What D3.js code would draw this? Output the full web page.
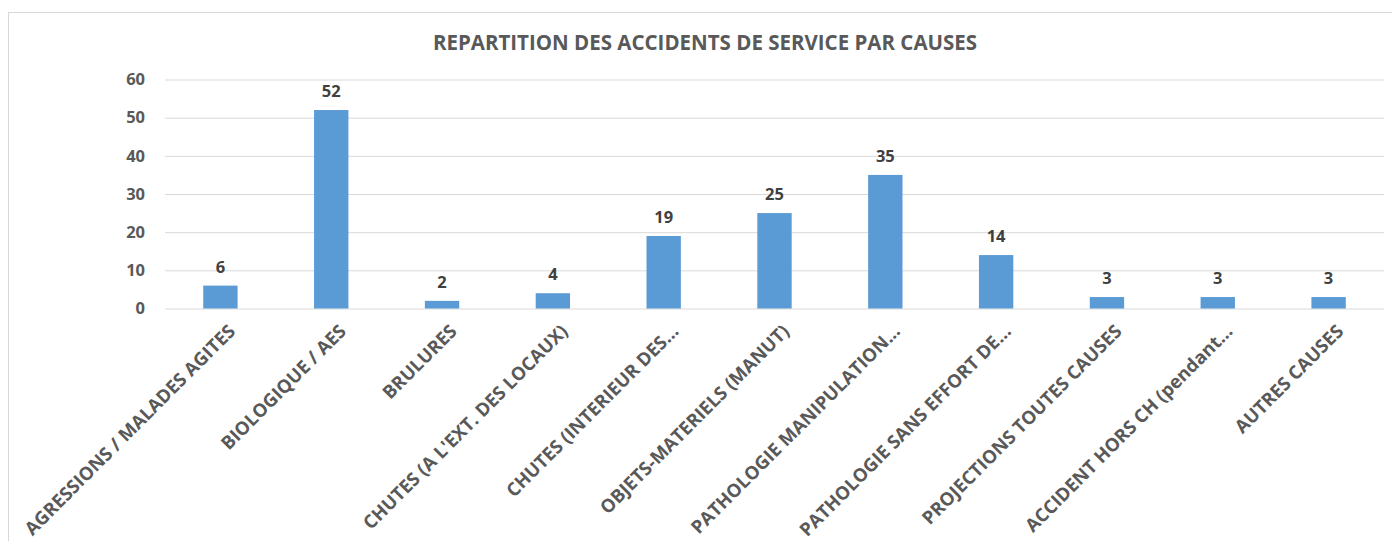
<!DOCTYPE html>
<html>
<head>
<meta charset="utf-8">
<script src="https://d3js.org/d3.v7.min.js"></script>
<style>
  body { margin: 0; background: #fff; }
  text { font-family: "Open Sans", Lato, sans-serif; font-weight: bold; }
</style>
</head>
<body>
<script>
// chart data
var causes = [
  "AGRESSIONS / MALADES AGITES",
  "BIOLOGIQUE / AES",
  "BRULURES",
  "CHUTES (A L'EXT. DES LOCAUX)",
  "CHUTES (INTERIEUR DES...",
  "OBJETS-MATERIELS (MANUT)",
  "PATHOLOGIE MANIPULATION...",
  "PATHOLOGIE SANS EFFORT DE...",
  "PROJECTIONS TOUTES CAUSES",
  "ACCIDENT HORS CH (pendant...",
  "AUTRES CAUSES"
];
var accidents = [6, 52, 2, 4, 19, 25, 35, 14, 3, 3, 3];
var yTicks = [0, 10, 20, 30, 40, 50, 60];
var title = "REPARTITION DES ACCIDENTS DE SERVICE PAR CAUSES";

var w = 1392, h = 541;
var plotLeft = 165, plotRight = 1384, plotTop = 79.5, plotBottom = 308.5;
var font = "'Open Sans', Lato, sans-serif";

var svg = d3.select("body").append("svg")
  .attr("width", w)
  .attr("height", h);

// chart frame
svg.append("rect")
  .attr("x", 8.5).attr("y", 12.5)
  .attr("width", 1400).attr("height", 600)
  .attr("fill", "none")
  .attr("stroke", "#d9d9d9");

// title
svg.append("text")
  .attr("x", 705).attr("y", 50)
  .attr("text-anchor", "middle")
  .attr("font-size", 20.5)
  .attr("fill", "#595959")
  .text(title);

var x = d3.scaleBand()
  .domain(causes)
  .range([plotLeft, plotRight])
  .paddingInner(0.69)
  .paddingOuter(0.345);

var y = d3.scaleLinear()
  .domain([0, 60])
  .range([plotBottom, plotTop]);

// gridlines + y labels
var yAxis = svg.append("g")
  .attr("transform", "translate(" + plotLeft + ",0)")
  .call(d3.axisLeft(y).tickValues(yTicks).tickSize(-(plotRight - plotLeft)).tickPadding(20));
yAxis.select(".domain").remove();
yAxis.selectAll("line").attr("stroke", "#d9d9d9");
yAxis.selectAll("text")
  .attr("font-family", font)
  .attr("font-weight", "bold")
  .attr("font-size", 16.5)
  .attr("fill", "#595959");

// bars
svg.selectAll("rect.bar")
  .data(accidents)
  .enter()
  .append("rect")
  .attr("class", "bar")
  .attr("x", function(d, i) { return x(causes[i]); })
  .attr("y", function(d) { return y(d); })
  .attr("width", x.bandwidth())
  .attr("height", function(d) { return y(0) - y(d); })
  .attr("fill", "#5b9bd5");

// value labels
svg.selectAll("text.value")
  .data(accidents)
  .enter()
  .append("text")
  .attr("class", "value")
  .attr("x", function(d, i) { return x(causes[i]) + x.bandwidth() / 2; })
  .attr("y", function(d) { return y(d) - 13; })
  .attr("text-anchor", "middle")
  .attr("font-size", 16.5)
  .attr("fill", "#404040")
  .text(function(d) { return d; });

// x labels, rotated
var xAxis = svg.append("g")
  .attr("transform", "translate(0," + plotBottom + ")")
  .call(d3.axisBottom(x).tickSize(0));
xAxis.select(".domain").remove();
xAxis.selectAll("text")
  .attr("font-family", font)
  .attr("font-weight", "bold")
  .attr("font-size", 18.5)
  .attr("fill", "#595959")
  .attr("text-anchor", "end")
  .attr("y", 0)
  .attr("dy", 0)
  .attr("transform", "translate(16,24) rotate(-45)");
</script>
</body>
</html>
